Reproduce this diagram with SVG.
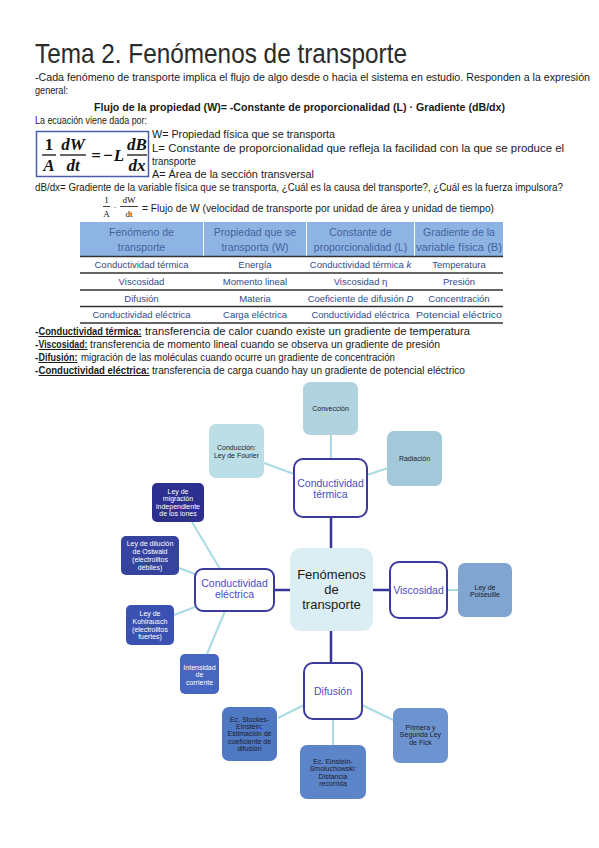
<svg xmlns="http://www.w3.org/2000/svg" width="599" height="848" viewBox="0 0 599 848">
<style>
text{font-family:"Liberation Sans",Arial,sans-serif;}
.t{font-size:10px;fill:#1a1a1a;}
.b{font-weight:bold;}
.u{text-decoration:underline;}
.eq{font-family:"Liberation Serif","Times New Roman",serif;font-style:italic;font-weight:bold;font-size:17px;fill:#111;text-anchor:middle;}
.eqn{font-family:"Liberation Serif","Times New Roman",serif;font-weight:bold;font-size:17px;fill:#111;text-anchor:middle;}
.sm{font-family:"Liberation Serif","Times New Roman",serif;font-size:9px;fill:#111;text-anchor:middle;}
.th{font-size:10.5px;fill:#44639f;text-anchor:middle;}
.td{font-size:9.5px;fill:#2f4c88;text-anchor:middle;}
.rl{stroke:#333;stroke-width:1.3;}
.hub{fill:#fff;stroke:#3b3b9e;stroke-width:2;}
.hubt{font-size:10.5px;fill:#4b4bc4;text-anchor:middle;}
.nt{font-size:7px;fill:#1c1c2c;text-anchor:middle;}
.nw{font-size:7px;fill:#fff;text-anchor:middle;}
.lc{stroke:#a9dbe3;stroke-width:2;fill:none;}
.dc{stroke:#34349a;stroke-width:2.5;fill:none;}
</style>

<!-- Heading text -->
<text x="35" y="63" font-size="28" fill="#2b2b2b" textLength="372" lengthAdjust="spacingAndGlyphs">Tema 2. Fenómenos de transporte</text>
<text class="t" x="35" y="81" textLength="555" lengthAdjust="spacingAndGlyphs">-Cada fenómeno de transporte implica el flujo de algo desde o hacia el sistema en estudio. Responden a la expresión</text>
<text class="t" x="35" y="94" textLength="33" lengthAdjust="spacingAndGlyphs">general:</text>
<text class="t b" x="94" y="111" font-size="10.5" textLength="411" lengthAdjust="spacingAndGlyphs">Flujo de la propiedad (W)= -Constante de proporcionalidad (L) · Gradiente (dB/dx)</text>
<text class="t" x="35" y="124" textLength="112" lengthAdjust="spacingAndGlyphs">La ecuación viene dada por:</text>

<!-- Equation box -->
<g id="equation">
<rect x="36.5" y="131.5" width="112" height="45" fill="#fff" stroke="#4a5ea8" stroke-width="1.5"/>
<text class="eqn" x="49" y="150">1</text>
<line x1="42" y1="155" x2="56" y2="155" stroke="#111" stroke-width="1.3"/>
<text class="eq" x="49" y="171">A</text>
<text class="eq" x="73" y="150">dW</text>
<line x1="60" y1="155" x2="86" y2="155" stroke="#111" stroke-width="1.3"/>
<text class="eq" x="73" y="171">dt</text>
<text class="eqn" x="96" y="161">=</text>
<text class="eqn" x="108" y="161">−</text>
<text class="eq" x="119" y="161">L</text>
<text class="eq" x="137" y="150">dB</text>
<line x1="127" y1="155" x2="147" y2="155" stroke="#111" stroke-width="1.3"/>
<text class="eq" x="137" y="171">dx</text>
</g>

<text class="t" x="152" y="138" textLength="183" lengthAdjust="spacingAndGlyphs">W= Propiedad física que se transporta</text>
<text class="t" x="152" y="152" textLength="412" lengthAdjust="spacingAndGlyphs">L= Constante de proporcionalidad que refleja la facilidad con la que se produce el</text>
<text class="t" x="152" y="165" textLength="44" lengthAdjust="spacingAndGlyphs">transporte</text>
<text class="t" x="152" y="178" textLength="162" lengthAdjust="spacingAndGlyphs">A= Área de la sección transversal</text>
<text class="t" x="35" y="191" textLength="528" lengthAdjust="spacingAndGlyphs">dB/dx= Gradiente de la variable física que se transporta, ¿Cuál es la causa del transporte?, ¿Cuál es la fuerza impulsora?</text>

<!-- small fraction -->
<text class="sm" x="106.5" y="203">1</text>
<line x1="103" y1="206.5" x2="110" y2="206.5" stroke="#111" stroke-width="0.8"/>
<text class="sm" x="106.5" y="217">A</text>
<text class="sm" x="115" y="210">·</text>
<text class="sm" x="129" y="203">dW</text>
<line x1="120" y1="206.5" x2="138" y2="206.5" stroke="#111" stroke-width="0.8"/>
<text class="sm" x="129" y="217">dt</text>
<text class="t" x="142" y="212" textLength="352" lengthAdjust="spacingAndGlyphs">= Flujo de W (velocidad de transporte por unidad de área y unidad de tiempo)</text>

<!-- Table -->
<g id="table">
<rect x="80" y="222" width="123" height="34" fill="#8eb4e3"/>
<rect x="204" y="222" width="102" height="34" fill="#8eb4e3"/>
<rect x="307" y="222" width="107" height="34" fill="#8eb4e3"/>
<rect x="415" y="222" width="88" height="34" fill="#8eb4e3"/>
<text class="th" x="141.5" y="236">Fenómeno de</text>
<text class="th" x="141.5" y="251">transporte</text>
<text class="th" x="255" y="236">Propiedad que se</text>
<text class="th" x="255" y="251">transporta (W)</text>
<text class="th" x="360.5" y="236">Constante de</text>
<text class="th" x="360.5" y="251">proporcionalidad (L)</text>
<text class="th" x="459" y="236">Gradiente de la</text>
<text class="th" x="459" y="251" textLength="86" lengthAdjust="spacingAndGlyphs">variable física (B)</text>
<line class="rl" x1="80" y1="256.5" x2="503" y2="256.5" stroke-width="1.8"/>
<line class="rl" x1="80" y1="273" x2="503" y2="273"/>
<line class="rl" x1="80" y1="290" x2="503" y2="290"/>
<line class="rl" x1="80" y1="306.5" x2="503" y2="306.5"/>
<line class="rl" x1="80" y1="323" x2="503" y2="323" stroke-width="1.8"/>
<text class="td" x="141.5" y="268">Conductividad térmica</text>
<text class="td" x="255" y="268">Energía</text>
<text class="td" x="360.5" y="268">Conductividad térmica <tspan font-style="italic">k</tspan></text>
<text class="td" x="459" y="268">Temperatura</text>
<text class="td" x="141.5" y="285">Viscosidad</text>
<text class="td" x="255" y="285">Momento lineal</text>
<text class="td" x="360.5" y="285">Viscosidad η</text>
<text class="td" x="459" y="285">Presión</text>
<text class="td" x="141.5" y="302">Difusión</text>
<text class="td" x="255" y="302">Materia</text>
<text class="td" x="360.5" y="302">Coeficiente de difusión <tspan font-style="italic">D</tspan></text>
<text class="td" x="459" y="302">Concentración</text>
<text class="td" x="141.5" y="318">Conductividad eléctrica</text>
<text class="td" x="255" y="318">Carga eléctrica</text>
<text class="td" x="360.5" y="318">Conductividad eléctrica</text>
<text class="td" x="459" y="318" textLength="86" lengthAdjust="spacingAndGlyphs">Potencial eléctrico</text>
</g>

<!-- Definitions -->
<text class="t b" x="35" y="335">-</text>
<text class="t b u" x="38.5" y="335" textLength="103" lengthAdjust="spacingAndGlyphs">Conductividad térmica:</text>
<text class="t" x="145" y="335" textLength="325" lengthAdjust="spacingAndGlyphs">transferencia de calor cuando existe un gradiente de temperatura</text>
<text class="t b" x="35" y="348">-</text>
<text class="t b u" x="38.5" y="348" textLength="49" lengthAdjust="spacingAndGlyphs">Viscosidad:</text>
<text class="t" x="90" y="348" textLength="350" lengthAdjust="spacingAndGlyphs">transferencia de momento lineal cuando se observa un gradiente de presión</text>
<text class="t b" x="35" y="361">-</text>
<text class="t b u" x="38.5" y="361" textLength="39" lengthAdjust="spacingAndGlyphs">Difusión:</text>
<text class="t" x="81" y="361" textLength="314" lengthAdjust="spacingAndGlyphs">migración de las moléculas cuando ocurre un gradiente de concentración</text>
<text class="t b" x="35" y="374">-</text>
<text class="t b u" x="38.5" y="374" textLength="111" lengthAdjust="spacingAndGlyphs">Conductividad eléctrica:</text>
<text class="t" x="152" y="374" textLength="313" lengthAdjust="spacingAndGlyphs">transferencia de carga cuando hay un gradiente de potencial eléctrico</text>

<!-- Connectors -->
<g id="connectors">
<line class="lc" x1="331" y1="435" x2="331" y2="459"/>
<line class="lc" x1="367" y1="475" x2="388" y2="468"/>
<line class="lc" x1="264" y1="463" x2="294" y2="474"/>
<line class="lc" x1="192" y1="522" x2="220" y2="569"/>
<line class="lc" x1="179" y1="568" x2="195" y2="574"/>
<line class="lc" x1="174" y1="615" x2="195" y2="607"/>
<line class="lc" x1="225" y1="611" x2="207" y2="654"/>
<line class="lc" x1="447" y1="590" x2="458" y2="590"/>
<line class="lc" x1="304" y1="705" x2="278" y2="718"/>
<line class="lc" x1="333" y1="719" x2="333" y2="745"/>
<line class="lc" x1="362" y1="705" x2="393" y2="720"/>
<line class="dc" x1="331" y1="517" x2="331" y2="548"/>
<line class="dc" x1="274" y1="590" x2="290" y2="590"/>
<line class="dc" x1="373" y1="590" x2="390" y2="590"/>
<line class="dc" x1="331" y1="631" x2="331" y2="663"/>
</g>

<!-- Central -->
<g id="central">
<rect x="290" y="548" width="83" height="83" rx="11" fill="#daeef3"/>
<text x="331.5" y="579" font-size="13" fill="#1a1a1a" text-anchor="middle">Fenómenos</text>
<text x="331.5" y="594" font-size="13" fill="#1a1a1a" text-anchor="middle">de</text>
<text x="331.5" y="609" font-size="13" fill="#1a1a1a" text-anchor="middle">transporte</text>
</g>

<!-- Hubs -->
<g id="cond-termica">
<rect class="hub" x="294" y="459" width="73" height="58" rx="9"/>
<text class="hubt" x="330.5" y="487">Conductividad</text>
<text class="hubt" x="330.5" y="498">térmica</text>
</g>
<g id="viscosidad">
<rect class="hub" x="390" y="562" width="57" height="56" rx="9"/>
<text class="hubt" x="418.5" y="594">Viscosidad</text>
</g>
<g id="difusion">
<rect class="hub" x="304" y="663" width="58" height="56" rx="9"/>
<text class="hubt" x="333" y="695">Difusión</text>
</g>
<g id="cond-electrica">
<rect class="hub" x="195" y="569" width="79" height="42" rx="8"/>
<text class="hubt" x="234.5" y="587">Conductividad</text>
<text class="hubt" x="234.5" y="598">eléctrica</text>
</g>

<!-- Leaves térmica -->
<g id="conveccion">
<rect x="303" y="382" width="55" height="53" rx="7" fill="#b1d3df"/>
<text class="nt" x="330.5" y="411">Convección</text>
</g>
<g id="radiacion">
<rect x="387" y="431" width="55" height="55" rx="7" fill="#a3c8da"/>
<text class="nt" x="414.5" y="461">Radiación</text>
</g>
<g id="conduccion">
<rect x="209" y="424" width="55" height="54" rx="7" fill="#bcdfe7"/>
<text class="nt" x="236.5" y="449.5">Conducción:</text>
<text class="nt" x="236.5" y="457.5">Ley de Fourier</text>
</g>

<!-- Leaves eléctrica -->
<g id="migracion">
<rect x="152" y="483" width="52" height="39" rx="5" fill="#2c2f8f"/>
<text class="nw" x="178" y="493.5">Ley de</text>
<text class="nw" x="178" y="500.5">migración</text>
<text class="nw" x="178" y="508.5">independiente</text>
<text class="nw" x="178" y="515.5">de los iones</text>
</g>
<g id="ostwald">
<rect x="121" y="536" width="58" height="39" rx="5" fill="#35439f"/>
<text class="nw" x="150" y="545.5">Ley de dilución</text>
<text class="nw" x="150" y="553.5">de Ostwald</text>
<text class="nw" x="150" y="561.5">(electrolitos</text>
<text class="nw" x="150" y="569.5">débiles)</text>
</g>
<g id="kohlrausch">
<rect x="126" y="605" width="48" height="40" rx="5" fill="#3b51b2"/>
<text class="nw" x="150" y="615.5">Ley de</text>
<text class="nw" x="150" y="623.5">Kohlrausch</text>
<text class="nw" x="150" y="631.5">(electrolitos</text>
<text class="nw" x="150" y="638.5">fuertes)</text>
</g>
<g id="intensidad">
<rect x="180" y="654" width="39" height="40" rx="5" fill="#4766c0"/>
<text class="nw" x="199.5" y="669.5">Intensidad</text>
<text class="nw" x="199.5" y="676.5">de</text>
<text class="nw" x="199.5" y="684.5">corriente</text>
</g>

<!-- Leaf viscosidad -->
<g id="poiseuille">
<rect x="458" y="563" width="54" height="54" rx="7" fill="#7fa5d0"/>
<text class="nt" x="485" y="589.5">Ley de</text>
<text class="nt" x="485" y="597">Poiseuille</text>
</g>

<!-- Leaves difusión -->
<g id="stokes">
<rect x="222" y="707" width="55" height="54" rx="7" fill="#4f78c2"/>
<text class="nt" x="249.5" y="721.5">Ec. Stockes-</text>
<text class="nt" x="249.5" y="729">Einstein:</text>
<text class="nt" x="249.5" y="736">Estimación de</text>
<text class="nt" x="249.5" y="743.5">coeficiente de</text>
<text class="nt" x="249.5" y="751">difusión</text>
</g>
<g id="smoluchowski">
<rect x="300" y="745" width="66" height="54" rx="7" fill="#5c84c9"/>
<text class="nt" x="333" y="763.5">Ec. Einstein-</text>
<text class="nt" x="333" y="771">Smoluchowski:</text>
<text class="nt" x="333" y="778.5">Distancia</text>
<text class="nt" x="333" y="786">recorrida</text>
</g>
<g id="fick">
<rect x="393" y="708" width="55" height="55" rx="7" fill="#6d94d0"/>
<text class="nt" x="420.5" y="729.5">Primera y</text>
<text class="nt" x="420.5" y="737">Segunda Ley</text>
<text class="nt" x="420.5" y="744.5">de Fick</text>
</g>
</svg>
